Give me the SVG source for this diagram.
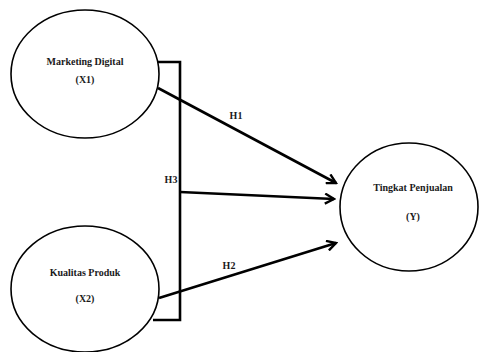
<svg xmlns="http://www.w3.org/2000/svg" width="479" height="352" viewBox="0 0 479 352">
<defs>
<style>
.node ellipse{fill:#fff;stroke:#000;stroke-width:1.6}
.t{font-family:"Liberation Serif","Times New Roman",serif;font-weight:bold;font-size:10px;fill:#1a1a1a;text-anchor:middle}
.c{fill:none;stroke:#000;stroke-width:2.6}
</style>
<marker id="arr" viewBox="0 0 12 12" refX="10" refY="6" markerWidth="12" markerHeight="12" markerUnits="userSpaceOnUse" orient="auto">
<path d="M1,1 L10,6 L1,11" fill="none" stroke="#000" stroke-width="2.4" stroke-linejoin="miter"/>
</marker>
</defs>
<rect width="479" height="352" fill="#fff"/>
<g id="connectors">
<path class="c" d="M158,62 H180 V320 H153"/>
<line class="c" x1="158" y1="88" x2="336" y2="183" marker-end="url(#arr)"/>
<line class="c" x1="180" y1="192" x2="334" y2="199" marker-end="url(#arr)"/>
<line class="c" x1="159" y1="298" x2="336" y2="243" marker-end="url(#arr)"/>
<text class="t" x="236" y="119">H1</text>
<text class="t" x="171" y="183">H3</text>
<text class="t" x="229" y="269">H2</text>
</g>
<g id="x1" class="node">
<ellipse cx="85" cy="74" rx="74" ry="64"/>
<text class="t" x="85" y="65">Marketing Digital</text>
<text class="t" x="85" y="83">(X1)</text>
</g>
<g id="x2" class="node">
<ellipse cx="85" cy="289" rx="74" ry="63"/>
<text class="t" x="85" y="276">Kualitas  Produk</text>
<text class="t" x="85" y="302">(X2)</text>
</g>
<g id="y" class="node">
<ellipse cx="409" cy="207" rx="69" ry="64"/>
<text class="t" x="413" y="191">Tingkat Penjualan</text>
<text class="t" x="413" y="220">(Y)</text>
</g>
</svg>
